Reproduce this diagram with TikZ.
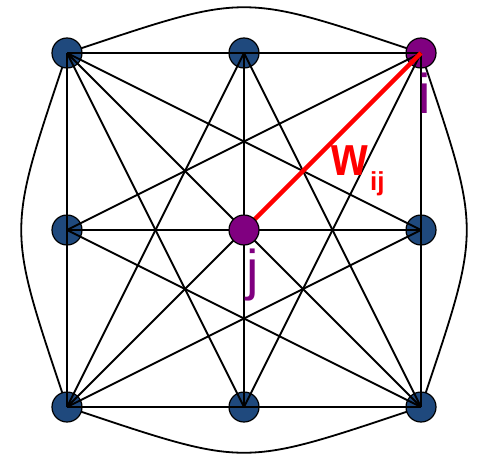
\documentclass[tikz,border=0pt]{standalone}
\usepackage{fontspec}
\setmainfont{Liberation Sans}
\definecolor{nodeblue}{RGB}{31,73,125}
\definecolor{nodepurple}{RGB}{128,0,128}
\tikzset{
  vtx/.style={circle,draw=black,line width=1.2pt,minimum size=30pt,inner sep=0pt},
  bluevtx/.style={vtx,fill=nodeblue},
  purplevtx/.style={vtx,fill=nodepurple},
  edge/.style={black,line width=1.8pt},
  redge/.style={red,line width=4.5pt},
  lbl/.style={inner sep=0pt,anchor=base west}
}
\begin{document}
\begin{tikzpicture}[x=1pt,y=-1pt]
\useasboundingbox (0,0) rectangle (477,458);
% coordinates of vertices
\coordinate (ptl) at (67,53);
\coordinate (ptm) at (244,53);
\coordinate (ptr) at (421,53);
\coordinate (pml) at (67,230);
\coordinate (pmm) at (244,230);
\coordinate (pmr) at (421,230);
\coordinate (pbl) at (67,407);
\coordinate (pbm) at (244,407);
\coordinate (pbr) at (421,407);
% curved outer edges
\draw[edge] (ptl) .. controls (250,-8) and (238,-8) .. (ptr);
\draw[edge] (ptl) .. controls (6,236) and (6,224) .. (pbl);
\draw[edge] (ptr) .. controls (482,236) and (482,224) .. (pbr);
\draw[edge] (pbl) .. controls (250,468) and (238,468) .. (pbr);
% vertices
\node[bluevtx] (tl) at (ptl) {};
\node[bluevtx] (tm) at (ptm) {};
\node[purplevtx] (tr) at (ptr) {};
\node[bluevtx] (ml) at (pml) {};
\node[bluevtx] (mr) at (pmr) {};
\node[bluevtx] (bl) at (pbl) {};
\node[bluevtx] (bm) at (pbm) {};
\node[bluevtx] (br) at (pbr) {};
% straight edges
\foreach \a/\b in {tl/tm,tl/ml,tl/mm,tl/mr,tl/bm,
                   tm/tr,tm/mm,tm/bl,tm/br,
                   tr/ml,tr/mr,tr/bm,
                   ml/mm,ml/bl,ml/br,
                   mm/mr,mm/bl,mm/bm,mm/br,
                   mr/bl,mr/br,
                   bl/bm,bm/br}
  \draw[edge] (p\a) -- (p\b);
\draw[redge] (pmm) -- (ptr);
\node[purplevtx] (mm) at (pmm) {};
% labels
\node[lbl,text=nodepurple,font=\fontsize{56}{56}\selectfont] (li) at (418,113) {i};
\node[lbl,text=nodepurple,font=\fontsize{56}{56}\selectfont] (lj) at (246,289) {j};
\node[lbl,text=red,font=\fontsize{47}{47}\selectfont\bfseries] (lw) at (331,175) {\scalebox{1}[1.2]{w}};
\node[lbl,text=red,font=\fontsize{26}{26}\selectfont\bfseries] (lij) at (370,190) {ij};
\end{tikzpicture}
\end{document}
